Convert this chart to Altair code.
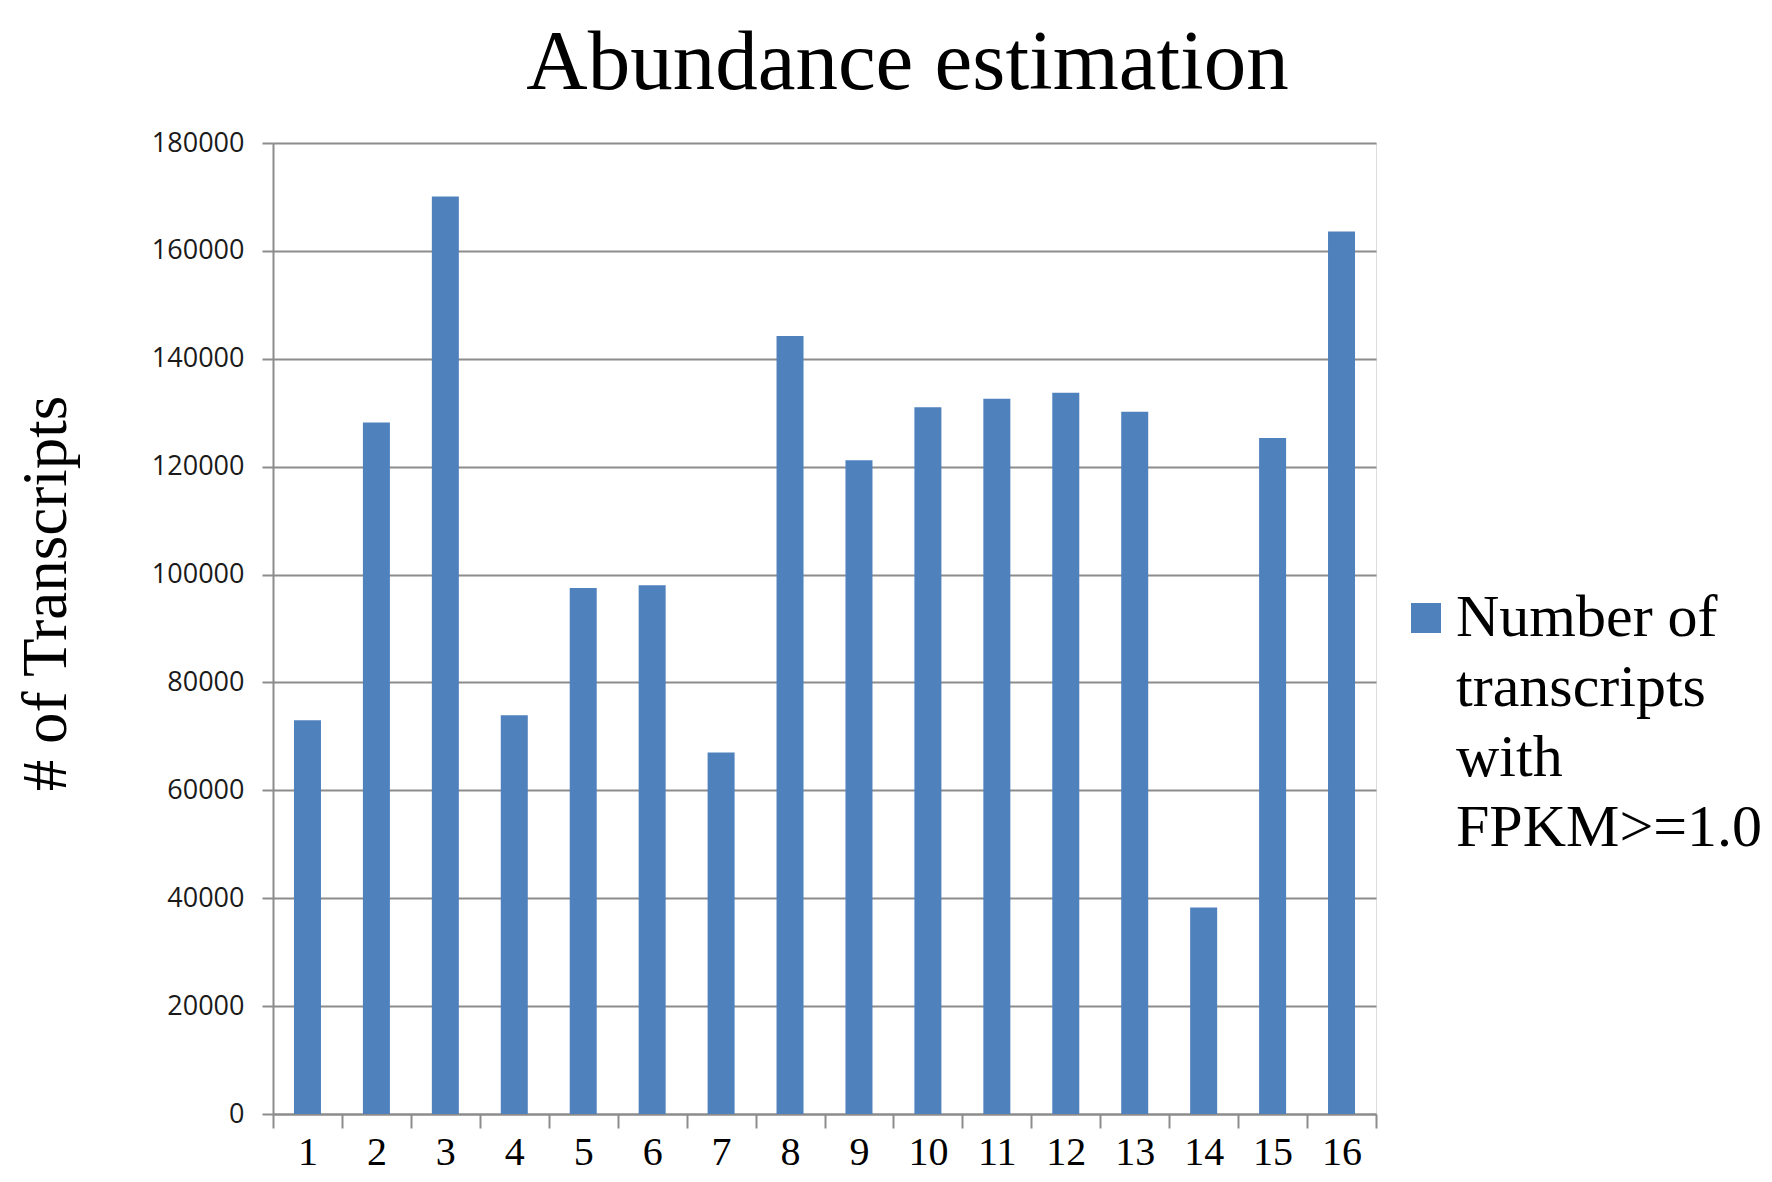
import altair as alt
import pandas as pd

# ---- data ----
samples = list(range(1, 17))
transcripts = [73000, 128200, 170100, 73900, 97500, 98000, 67000, 144200,
               121200, 131000, 132600, 133700, 130200, 38300, 125300, 163600]
series_name = "Number of\ntranscripts\nwith\nFPKM>=1.0"
y_ticks = [0, 20000, 40000, 60000, 80000, 100000, 120000, 140000, 160000, 180000]
x_tick_values = [i / 2 for i in range(1, 34)]  # boundaries + centres

df = pd.DataFrame({"sample": samples, "count": transcripts, "series": series_name})

serif = "Liberation Serif"
sans = "Open Sans"
grid_gray = "#8c8c8c"

bars = alt.Chart(df).mark_bar(size=27, color="#4F81BD").encode(
    x=alt.X(
        "sample:Q",
        scale=alt.Scale(domain=[0.5, 16.5], nice=False, zero=False, padding=0),
        axis=alt.Axis(
            title=None,
            values=x_tick_values,
            grid=False,
            domainColor=grid_gray,
            domainWidth=2,
            tickColor=grid_gray,
            tickWidth=2,
            tickSize=14,
            tickOpacity={"condition": {"test": "datum.value % 1 === 0", "value": 0}, "value": 1},
            labelExpr="datum.value % 1 === 0 ? '' + datum.value : ''",
            labelOverlap=False,
            labelFlush=False,
            labelFont=serif,
            labelFontSize=40,
            labelColor="#000000",
            labelBaseline="alphabetic",
            labelPadding=36,
        ),
    ),
    y=alt.Y(
        "count:Q",
        scale=alt.Scale(domain=[0, 180000], nice=False),
        axis=alt.Axis(
            title="# of Transcripts",
            values=y_ticks,
            format="d",
            grid=True,
            gridColor=grid_gray,
            gridWidth=2,
            domainColor=grid_gray,
            domainWidth=2,
            tickColor=grid_gray,
            tickWidth=2,
            tickSize=11,
            labelFont=sans,
            labelFontSize=27,
            labelColor="#1a1a1a",
            labelPadding=18,
            titleFont=serif,
            titleFontSize=63,
            titleFontWeight="normal",
            titleColor="#000000",
            titleAngle=270,
            titleAlign="center",
            titleBaseline="alphabetic",
            titleX=-208,
            titleY=450,
        ),
    ),
    color=alt.Color(
        "series:N",
        scale=alt.Scale(range=["#4F81BD"]),
        legend=alt.Legend(
            title=None,
            orient="none",
            legendX=1123,
            legendY=445,
            padding=0,
            symbolType="square",
            symbolSize=900,
            symbolStrokeWidth=0,
            labelFont=serif,
            labelFontSize=60,
            labelColor="#000000",
            labelOffset=0,
            labelLimit=600,
            labelBaseline="middle",
            labelExpr="split(datum.label, '\\n')",
        ),
    ),
)

chart = bars.properties(
    width=1103,
    height=971,
    autosize=alt.AutoSizeParams(type="none"),
    padding={"left": 265, "top": 135, "right": 388, "bottom": 60},
    title=alt.TitleParams(
        text="Abundance estimation",
        font=serif,
        fontSize=85,
        fontWeight="normal",
        color="#000000",
        anchor="middle",
        dx=83,
        dy=-18,
    ),
).configure_view(strokeWidth=0).configure(
    background="white",
    style={"guide-label": {"lineHeight": 70}},
)

chart.save("out.html", embed_options={"renderer": "svg", "actions": False})
